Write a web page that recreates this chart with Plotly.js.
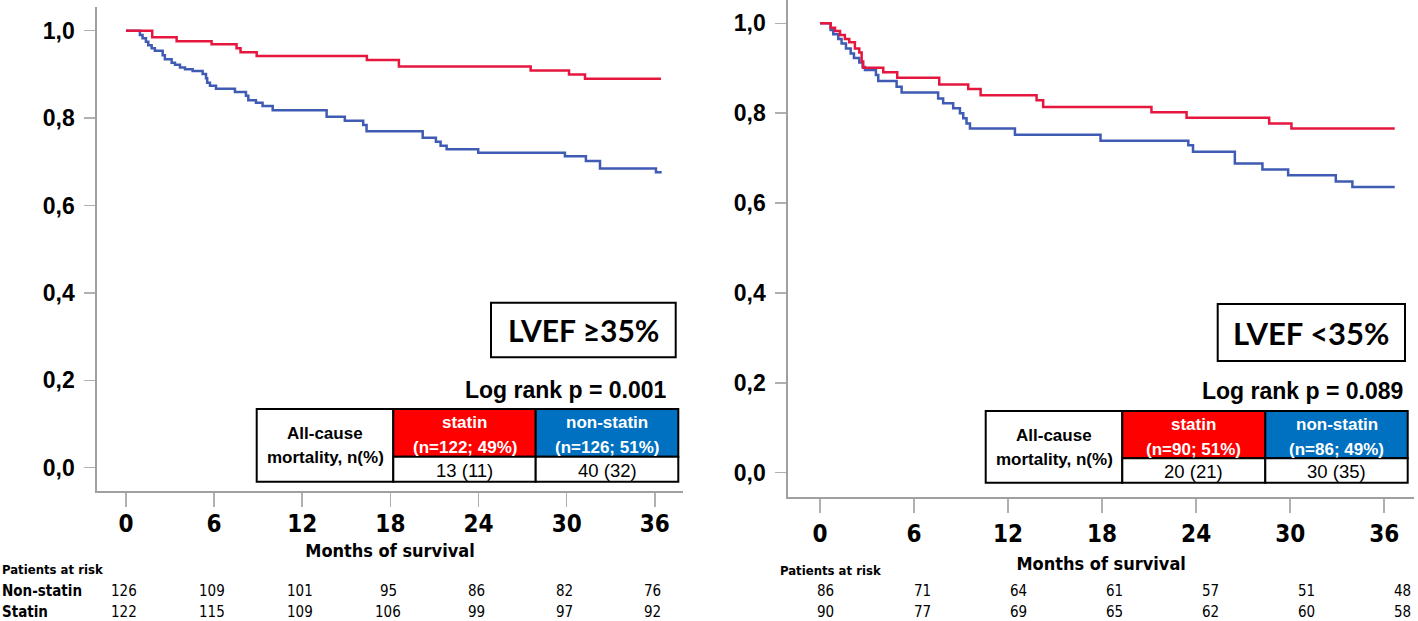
<!DOCTYPE html>
<html>
<head>
<meta charset="utf-8">
<script src="https://cdn.plot.ly/plotly-3.0.1.min.js"></script>
<style>html,body{margin:0;padding:0;background:#fff;}#chart{width:1418px;height:621px;}</style>
</head>
<body>
<div id="chart"></div>
<script>
// ---------- DATA ----------
// LVEF >= 35% (left panel)
var leftStatinMonths = [0, 1.79, 3.45, 5.83, 7.53, 7.8, 8.9, 16.4, 18.58, 27.55, 30.16, 31.25, 36.42];
var leftStatinSurv   = [1.0, 0.985, 0.976, 0.969, 0.960, 0.951, 0.942, 0.933, 0.918, 0.909, 0.900, 0.890, 0.890];
var leftNonStatinMonths = [0, 0.95, 1.13, 1.36, 1.52, 1.75, 1.97, 2.5, 2.65, 3.11, 3.34, 3.68, 4.02, 4.54, 5.22, 5.45, 5.53, 5.72, 6.13, 7.42, 8.17, 8.33, 8.85, 9.3, 9.99, 13.66, 14.9, 16.15, 16.38, 20.2, 21.1, 21.42, 21.83, 23.98, 29.88, 31.31, 32.27, 36.08, 36.47];
var leftNonStatinSurv   = [1.0, 0.990, 0.983, 0.975, 0.967, 0.960, 0.954, 0.944, 0.935, 0.927, 0.922, 0.916, 0.912, 0.908, 0.901, 0.891, 0.881, 0.874, 0.867, 0.860, 0.851, 0.841, 0.835, 0.828, 0.818, 0.803, 0.794, 0.784, 0.770, 0.755, 0.746, 0.737, 0.729, 0.721, 0.713, 0.702, 0.685, 0.676, 0.676];

// LVEF < 35% (right panel)
var rightStatinMonths = [0, 0.68, 0.96, 1.28, 1.59, 1.87, 2.23, 2.51, 2.66, 2.76, 4.04, 4.93, 7.61, 9.46, 10.25, 13.82, 14.24, 21.15, 23.39, 28.66, 30.08, 36.67];
var rightStatinSurv   = [1.0, 0.990, 0.983, 0.974, 0.965, 0.958, 0.944, 0.935, 0.915, 0.901, 0.891, 0.879, 0.864, 0.854, 0.840, 0.829, 0.814, 0.802, 0.790, 0.777, 0.766, 0.766];
var rightNonStatinMonths = [0, 0.68, 0.85, 1.17, 1.38, 1.66, 1.96, 2.17, 2.51, 2.72, 2.87, 3.57, 3.72, 4.89, 5.21, 7.54, 7.86, 8.5, 8.93, 9.14, 9.35, 9.57, 12.44, 17.9, 23.5, 23.8, 26.47, 28.23, 29.87, 32.91, 33.97, 36.67];
var rightNonStatinSurv   = [1.0, 0.985, 0.976, 0.965, 0.955, 0.944, 0.933, 0.923, 0.913, 0.903, 0.896, 0.885, 0.872, 0.859, 0.846, 0.833, 0.822, 0.811, 0.800, 0.789, 0.777, 0.766, 0.752, 0.739, 0.729, 0.714, 0.688, 0.675, 0.662, 0.648, 0.636, 0.636];

// axis ticks
var monthTicks = [0, 6, 12, 18, 24, 30, 36];
var survTickVals = [0, 0.2, 0.4, 0.6, 0.8, 1.0];
var survTickText = ['0,0', '0,2', '0,4', '0,6', '0,8', '1,0'];

// patients at risk
var riskMonths = [0, 6, 12, 18, 24, 30, 36];
var leftRiskNonStatin  = [126, 109, 101, 95, 86, 82, 76];
var leftRiskStatin     = [122, 115, 109, 106, 99, 97, 92];
var rightRiskNonStatin = [86, 71, 64, 61, 57, 51, 48];
var rightRiskStatin    = [90, 77, 69, 65, 62, 60, 58];

// texts
var leftPanelLabel = 'LVEF ≥35%';
var rightPanelLabel = 'LVEF <35%';
var leftLogRank = 'Log rank p = 0.001';
var rightLogRank = 'Log rank p = 0.089';
var leftHeaderStatin = ['statin', '(n=122; 49%)'];
var leftHeaderNon = ['non-statin', '(n=126; 51%)'];
var leftMortality = ['13 (11)', '40 (32)'];
var rightHeaderStatin = ['statin', '(n=90; 51%)'];
var rightHeaderNon = ['non-statin', '(n=86; 49%)'];
var rightMortality = ['20 (21)', '30 (35)'];
var rowLabel = ['All-cause', 'mortality, n(%)'];

// ---------- STYLE ----------
var W = 1418, H = 621;
var RED = '#E5173F', BLUE = '#3F5BB3';
var NARROW = '"Liberation Sans Narrow", "Arial Narrow", "DejaVu Sans Condensed", sans-serif';
var ARIAL = '"Liberation Sans", Arial, sans-serif';
var CAL = 'Lato, "Open Sans", sans-serif';
function px(x) { return x / W; }
function py(y) { return 1 - y / H; }

var traces = [
  {x: leftNonStatinMonths, y: leftNonStatinSurv, xaxis: 'x', yaxis: 'y', mode: 'lines', line: {shape: 'hv', color: BLUE, width: 2.5}, name: 'Non-statin'},
  {x: leftStatinMonths, y: leftStatinSurv, xaxis: 'x', yaxis: 'y', mode: 'lines', line: {shape: 'hv', color: RED, width: 2.5}, name: 'Statin'},
  {x: rightNonStatinMonths, y: rightNonStatinSurv, xaxis: 'x2', yaxis: 'y2', mode: 'lines', line: {shape: 'hv', color: BLUE, width: 2.5}, name: 'Non-statin'},
  {x: rightStatinMonths, y: rightStatinSurv, xaxis: 'x2', yaxis: 'y2', mode: 'lines', line: {shape: 'hv', color: RED, width: 2.5}, name: 'Statin'}
];

function xAxis(domain, range, anchor, labelStandoff, titleStandoff) {
  return {
    domain: domain, range: range, anchor: anchor, tickmode: 'array', tickvals: monthTicks,
    ticks: 'outside', ticklen: 14, tickwidth: 1.5, tickcolor: '#b0b0b0',
    showline: true, linecolor: '#a0a0a0', linewidth: 2, showgrid: false, zeroline: false,
    tickfont: {family: NARROW, size: 24, color: '#000', weight: 700},
    ticklabelstandoff: labelStandoff, automargin: false, fixedrange: true,
    title: {text: 'Months of survival', font: {family: NARROW, size: 18, color: '#000', weight: 700}, standoff: titleStandoff}
  };
}
function yAxis(domain, range, anchor) {
  return {
    domain: domain, range: range, anchor: anchor, tickmode: 'array', tickvals: survTickVals, ticktext: survTickText,
    ticks: 'outside', ticklen: 11, tickwidth: 1.5, tickcolor: '#b0b0b0',
    showline: true, linecolor: '#a0a0a0', linewidth: 2, showgrid: false, zeroline: false,
    tickfont: {family: ARIAL, size: 23, color: '#000', weight: 700},
    ticklabelstandoff: 5, automargin: false, fixedrange: true
  };
}

var shapes = [];
var annotations = [];

function box(x0, y0, x1, y1, fill) {
  shapes.push({type: 'rect', xref: 'paper', yref: 'paper', x0: px(x0), x1: px(x1), y0: py(y1), y1: py(y0),
    line: {color: '#000', width: 2}, fillcolor: fill || 'rgba(0,0,0,0)', layer: 'above'});
}
function text(t, x, y, font, anchor) {
  annotations.push({text: t, xref: 'paper', yref: 'paper', x: px(x), y: py(y), xanchor: anchor || 'center', yanchor: 'middle',
    showarrow: false, font: font});
}

// panel labels
box(491, 302.7, 675.7, 357.3, '#fff');
text(leftPanelLabel, 583.3, 330, {family: CAL, size: 30, color: '#000', weight: 700});
box(1217.7, 304, 1405, 361, '#fff');
text(rightPanelLabel, 1311.3, 332.5, {family: CAL, size: 31, color: '#000', weight: 700});

// log rank
text(leftLogRank, 669, 390, {family: ARIAL, size: 23, color: '#000', weight: 700}, 'right');
text(rightLogRank, 1405, 390.7, {family: ARIAL, size: 23, color: '#000', weight: 700}, 'right');

function table(X, Y, hdrS, hdrN, vals, fs) {
  // X: [left, div1, div2, right], Y: [top, headerBottom, bottom]
  box(X[0], Y[0], X[1], Y[2], '#fff');
  box(X[1], Y[0], X[2], Y[1], '#FF0000');
  box(X[2], Y[0], X[3], Y[1], '#0070C0');
  box(X[1], Y[1], X[2], Y[2], '#fff');
  box(X[2], Y[1], X[3], Y[2], '#fff');
  var c0 = (X[0] + X[1]) / 2, c1 = (X[1] + X[2]) / 2, c2 = (X[2] + X[3]) / 2;
  var bf = {family: ARIAL, size: fs, color: '#000', weight: 700};
  var wf = {family: ARIAL, size: fs, color: '#fff', weight: 700};
  var rf = {family: ARIAL, size: fs + 1.5, color: '#000'};
  var mid = (Y[0] + Y[2]) / 2;
  text(rowLabel[0], c0, mid - 11.5, bf);
  text(rowLabel[1], c0, mid + 12.5, bf);
  text(hdrS[0], c1, Y[0] + 13.5, wf);
  text(hdrS[1], c1, Y[0] + 38, wf);
  text(hdrN[0], c2, Y[0] + 13.5, wf);
  text(hdrN[1], c2, Y[0] + 38, wf);
  text(vals[0], c1, (Y[1] + Y[2]) / 2 + 1, rf);
  text(vals[1], c2, (Y[1] + Y[2]) / 2 + 1, rf);
}
table([256.7, 393.3, 535.7, 678.3], [409, 456.7, 481.7], leftHeaderStatin, leftHeaderNon, leftMortality, 17);
table([985.7, 1122.3, 1265.3, 1407.7], [411, 458.3, 482.7], rightHeaderStatin, rightHeaderNon, rightMortality, 17);

// patients at risk
var riskHead = {family: NARROW, size: 13, color: '#000', weight: 700};
var riskLab = {family: NARROW, size: 15, color: '#000', weight: 700};
var riskNum = {family: NARROW, size: 15, color: '#000'};
text('Patients at risk', 0, 569, riskHead, 'left');
text('Non-statin', 0, 591, riskLab, 'left');
text('Statin', 0, 611.5, riskLab, 'left');
text('Patients at risk', 778, 570, riskHead, 'left');
function riskRow(vals, xref, y, shiftFn) {
  for (var i = 0; i < vals.length; i++) {
    annotations.push({text: String(vals[i]), xref: xref, yref: 'paper', x: riskMonths[i], y: py(y),
      xanchor: 'center', yanchor: 'middle', showarrow: false, font: riskNum, xshift: shiftFn(riskMonths[i])});
  }
}
riskRow(leftRiskNonStatin, 'x', 591, function () { return -2; });
riskRow(leftRiskStatin, 'x', 611.5, function () { return -2; });
riskRow(rightRiskNonStatin, 'x2', 591, function (m) { return 6 + m / 3; });
riskRow(rightRiskStatin, 'x2', 611.5, function (m) { return 6 + m / 3; });

var layout = {
  width: W, height: H, margin: {l: 0, r: 0, t: 0, b: 0},
  paper_bgcolor: '#fff', plot_bgcolor: '#fff', showlegend: false,
  xaxis: xAxis([px(97.3), px(682.7)], [-1.95, 37.9], 'y', -4, 7),
  yaxis: yAxis([py(491.3), py(6.7)], [-0.054, 1.055], 'x'),
  xaxis2: xAxis([px(788.3), px(1414)], [-2.02, 37.9], 'y2', 0, 10),
  yaxis2: yAxis([py(497.4), 1.0], [-0.055, 1.052], 'x2'),
  shapes: shapes, annotations: annotations
};

Plotly.newPlot('chart', traces, layout, {displayModeBar: false, staticPlot: true});
</script>
</body>
</html>
